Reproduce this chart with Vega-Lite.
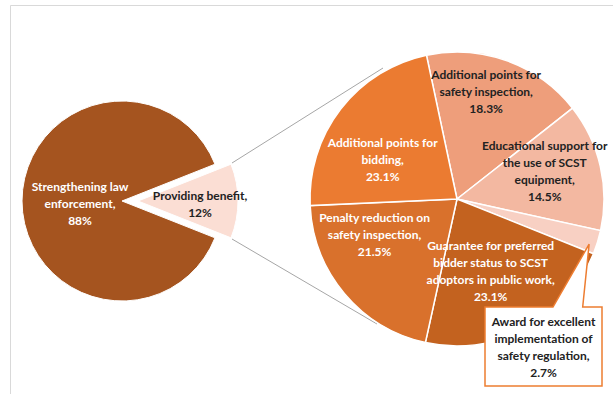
{
  "$schema": "https://vega.github.io/schema/vega-lite/v6.json",
  "width": 603,
  "height": 395,
  "autosize": "none",
  "padding": {"left": 10, "top": 5, "right": 0, "bottom": 0},
  "background": "white",
  "config": {"view": {"stroke": "#d9d9d9", "strokeWidth": 1}, "font": "Lato"},
  "datasets": {
    "overall": [
      {"pie": "Overall", "category": "Strengthening law enforcement", "value": 88, "label": "Strengthening law\nenforcement,\n88%"},
      {"pie": "Overall", "category": "Providing benefit", "value": 12, "label": "Providing benefit,\n12%"}
    ],
    "breakdown": [
      {"pie": "Providing benefit", "category": "Additional points for safety inspection", "value": 18.3, "label": "Additional points for\nsafety inspection,\n18.3%"},
      {"pie": "Providing benefit", "category": "Educational support for the use of SCST equipment", "value": 14.5, "label": "Educational support for\nthe use of SCST\nequipment,\n14.5%"},
      {"pie": "Providing benefit", "category": "Award for excellent implementation of safety regulation", "value": 2.7, "label": "Award for excellent\nimplementation of\nsafety regulation,\n2.7%"},
      {"pie": "Providing benefit", "category": "Guarantee for preferred bidder status to SCST adoptors in public work", "value": 23.1, "label": "Guarantee for preferred\nbidder status to SCST\nadoptors in public work,\n23.1%"},
      {"pie": "Providing benefit", "category": "Penalty reduction on safety inspection", "value": 21.5, "label": "Penalty reduction on\nsafety inspection,\n21.5%"},
      {"pie": "Providing benefit", "category": "Additional points for bidding", "value": 23.1, "label": "Additional points for\nbidding,\n23.1%"}
    ]
  },
  "encoding": {
    "x": {"field": "pie", "type": "nominal", "scale": {"type": "point", "domain": ["Overall", "Providing benefit"], "range": [112, 447], "padding": 0}, "axis": null},
    "y": {"field": "pie", "type": "nominal", "scale": {"type": "point", "domain": ["Overall", "Providing benefit"], "range": [196, 194], "padding": 0}, "axis": null}
  },
  "layer": [
    {
      "data": {"name": "overall"},
      "transform": [{"filter": "datum.category === 'Providing benefit'"}],
      "layer": [
        {"mark": {"type": "rule", "color": "#A6A6A6", "strokeWidth": 1, "xOffset": 110, "yOffset": -38, "x2Offset": -74, "y2Offset": -131},
         "encoding": {"x2": {"datum": "Providing benefit"}, "y2": {"datum": "Providing benefit"}}},
        {"mark": {"type": "rule", "color": "#A6A6A6", "strokeWidth": 1, "xOffset": 110, "yOffset": 38, "x2Offset": -80, "y2Offset": 125},
         "encoding": {"x2": {"datum": "Providing benefit"}, "y2": {"datum": "Providing benefit"}}}
      ]
    },
    {
      "data": {"name": "overall"},
      "transform": [{"window": [{"op": "row_number", "as": "idx"}]}],
      "encoding": {
        "theta": {"field": "value", "type": "quantitative", "stack": true, "scale": {"range": [1.9478, 8.2310]}},
        "order": {"field": "idx", "type": "quantitative"},
        "color": {"field": "category", "type": "nominal", "legend": null,
          "scale": {"domain": ["Strengthening law enforcement", "Providing benefit", "Additional points for safety inspection", "Educational support for the use of SCST equipment", "Award for excellent implementation of safety regulation", "Guarantee for preferred bidder status to SCST adoptors in public work", "Penalty reduction on safety inspection", "Additional points for bidding"],
                    "range": ["#A5541F", "#FBDED4", "#EE9E7B", "#F3B8A1", "#F8D0C3", "#C3621F", "#D9712C", "#EB7B31"]}}
      },
      "layer": [
        {"mark": {"type": "arc", "outerRadius": 100, "stroke": "white", "strokeWidth": 1},
         "encoding": {"opacity": {"condition": {"test": "datum.category === 'Providing benefit'", "value": 0}, "value": 1}}},
        {"mark": {"type": "arc", "outerRadius": 100, "xOffset": 16, "stroke": "white", "strokeWidth": 1},
         "encoding": {"opacity": {"condition": {"test": "datum.category === 'Providing benefit'", "value": 1}, "value": 0}}},
        {"mark": {"type": "text", "radius": 42, "yOffset": -14, "fontWeight": "bold", "fontSize": 12, "lineBreak": "\n", "lineHeight": 17, "align": "center", "baseline": "middle"},
         "encoding": {"text": {"field": "label"}, "color": {"value": "white"},
           "opacity": {"condition": {"test": "datum.category === 'Strengthening law enforcement'", "value": 1}, "value": 0}}},
        {"mark": {"type": "text", "radius": 62, "xOffset": 16, "yOffset": -5, "fontWeight": "bold", "fontSize": 12, "lineBreak": "\n", "lineHeight": 17, "align": "center", "baseline": "middle"},
         "encoding": {"text": {"field": "label"}, "color": {"value": "#222222"},
           "opacity": {"condition": {"test": "datum.category === 'Providing benefit'", "value": 1}, "value": 0}}}
      ]
    },
    {
      "data": {"name": "breakdown"},
      "transform": [{"window": [{"op": "row_number", "as": "idx"}]}],
      "encoding": {
        "theta": {"field": "value", "type": "quantitative", "stack": true, "scale": {"range": [-0.2094, 6.0738]}},
        "order": {"field": "idx", "type": "quantitative"},
        "color": {"field": "category", "type": "nominal", "legend": null}
      },
      "layer": [
        {"mark": {"type": "arc", "outerRadius": 147, "stroke": "white", "strokeWidth": 1.5}},
        {"mark": {"type": "text", "radius": 111, "thetaOffset": -0.082, "yOffset": -17, "fontWeight": "bold", "fontSize": 12, "lineBreak": "\n", "lineHeight": 17, "align": "center", "baseline": "middle"},
         "encoding": {"text": {"field": "label"}, "color": {"value": "#222222"},
           "opacity": {"condition": {"test": "datum.category === 'Additional points for safety inspection'", "value": 1}, "value": 0}}},
        {"mark": {"type": "text", "radius": 92, "thetaOffset": -0.082, "yOffset": -25.5, "fontWeight": "bold", "fontSize": 12, "lineBreak": "\n", "lineHeight": 17, "align": "center", "baseline": "middle"},
         "encoding": {"text": {"field": "label"}, "color": {"value": "#222222"},
           "opacity": {"condition": {"test": "datum.category === 'Educational support for the use of SCST equipment'", "value": 1}, "value": 0}}},
        {"mark": {"type": "text", "radius": 80, "thetaOffset": 0.052, "yOffset": -25.5, "fontWeight": "bold", "fontSize": 12, "lineBreak": "\n", "lineHeight": 17, "align": "center", "baseline": "middle"},
         "encoding": {"text": {"field": "label"}, "color": {"value": "white"},
           "opacity": {"condition": {"test": "datum.category === 'Guarantee for preferred bidder status to SCST adoptors in public work'", "value": 1}, "value": 0}}},
        {"mark": {"type": "text", "radius": 90, "thetaOffset": 0.286, "yOffset": -17, "fontWeight": "bold", "fontSize": 12, "lineBreak": "\n", "lineHeight": 17, "align": "center", "baseline": "middle"},
         "encoding": {"text": {"field": "label"}, "color": {"value": "white"},
           "opacity": {"condition": {"test": "datum.category === 'Penalty reduction on safety inspection'", "value": 1}, "value": 0}}},
        {"mark": {"type": "text", "radius": 84, "thetaOffset": -0.173, "yOffset": -17, "fontWeight": "bold", "fontSize": 12, "lineBreak": "\n", "lineHeight": 17, "align": "center", "baseline": "middle"},
         "encoding": {"text": {"field": "label"}, "color": {"value": "white"},
           "opacity": {"condition": {"test": "datum.category === 'Additional points for bidding'", "value": 1}, "value": 0}}}
      ]
    },
    {
      "data": {"name": "breakdown"},
      "transform": [{"filter": "datum.category === 'Award for excellent implementation of safety regulation'"}],
      "layer": [
        {"mark": {"type": "point", "shape": "M-1,-0.675L0.162,-0.675L0.78,-1.75L0.67,-0.675L1,-0.675L1,0.675L-1,0.675Z", "size": 13689, "filled": true, "fill": "white", "stroke": "#ED7D31", "strokeWidth": 1.5, "opacity": 1, "xOffset": 86.5, "yOffset": 147.5}},
        {"mark": {"type": "text", "xOffset": 86.5, "yOffset": 122.5, "fontWeight": "bold", "fontSize": 12, "lineBreak": "\n", "lineHeight": 17, "align": "center", "baseline": "middle", "color": "#222222"},
         "encoding": {"text": {"field": "label"}}}
      ]
    }
  ],
  "resolve": {"scale": {"theta": "independent"}}
}
